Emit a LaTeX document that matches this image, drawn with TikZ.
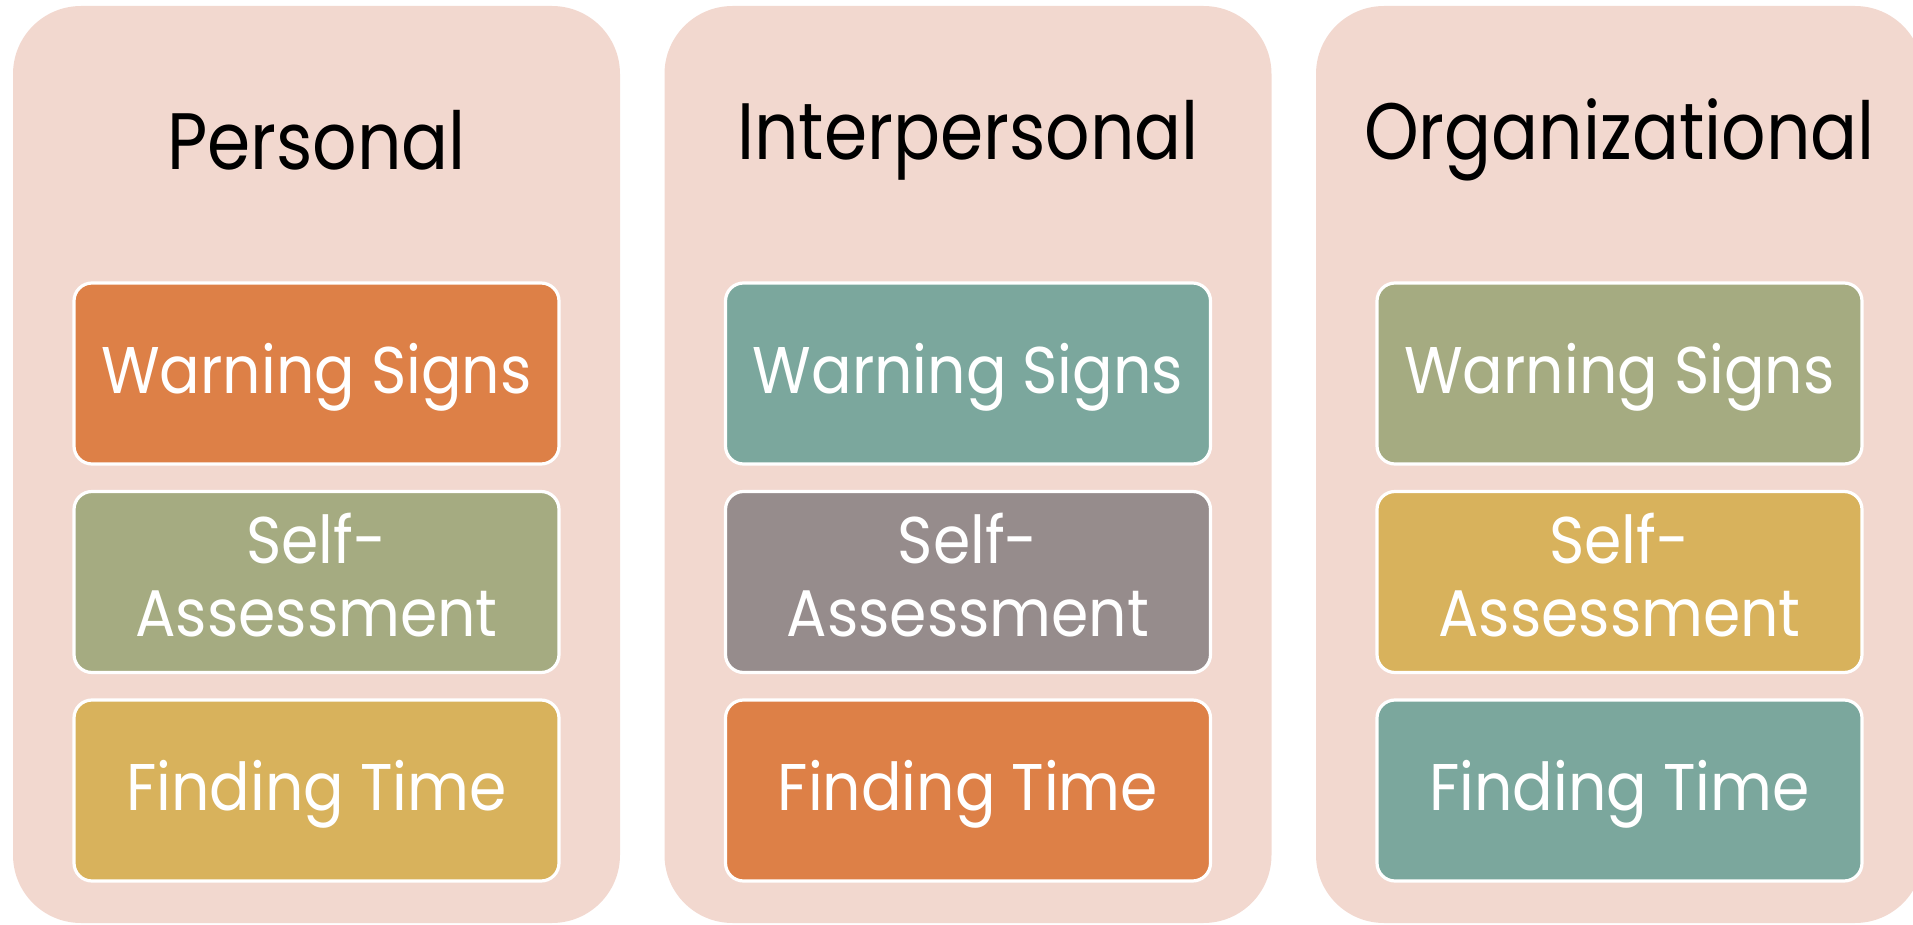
\documentclass[tikz,border=0pt]{standalone}
\usepackage{fontspec}
\setmainfont{Poppins}
\newfontfamily\headfont[FakeStretch=0.87]{Poppins}
\newfontfamily\itemfont[FakeStretch=0.91]{Poppins}
\definecolor{panelfill}{HTML}{F2D8CF}
\definecolor{cOrange}{HTML}{DD8047}
\definecolor{cSage}{HTML}{A5AB81}
\definecolor{cGold}{HTML}{D8B25C}
\definecolor{cTeal}{HTML}{7BA79D}
\definecolor{cMauve}{HTML}{968C8C}
% one-line and two-line item labels, nudged without changing their boxes
\newcommand{\oneline}[1]{\raisebox{-1.8pt}[\height][\depth]{#1}}
\newcommand{\twoline}[2]{\raisebox{-2pt}[\height][\depth]{\begin{tabular}{@{}c@{}}#1\\[0.5pt]#2\end{tabular}}}
\begin{document}
\begin{tikzpicture}[x=0.5pt,y=-0.5pt,
  panel/.style={fill=panelfill,draw=none,rounded corners=34pt,
    minimum width=303.5pt,minimum height=458.5pt,inner sep=0pt},
  heading/.style={font=\headfont\fontsize{40}{44}\selectfont,text=black},
  item/.style={draw=white,line width=1.6pt,rounded corners=9pt,
    minimum width=242.5pt,minimum height=90.5pt,inner sep=0pt,
    text=white,align=center,font=\itemfont\fontsize{33}{36}\selectfont}]
\useasboundingbox (0,0) rectangle (1913,925);
\begin{scope}
\clip (0,0) rectangle (1913,925);
% three columns
\node[panel] (p1) at (316.5,464.5) {};
\node[panel] (p2) at (968,464.5) {};
\node[panel] (p3) at (1619.5,464.5) {};
% column headings
\node[heading] (t1) at (316.5,140) {Personal};
\node[heading] (t2) at (968,140) {Interpersonal};
\node[heading] (t3) at (1619.5,140) {Organizational};
% Personal
\node[item,fill=cOrange] (b11) at (316.5,373.5) {\oneline{Warning Signs}};
\node[item,fill=cSage] (b12) at (316.5,582) {\twoline{Self-}{Assessment}};
\node[item,fill=cGold] (b13) at (316.5,790.5) {\oneline{Finding Time}};
% Interpersonal
\node[item,fill=cTeal] (b21) at (968,373.5) {\oneline{Warning Signs}};
\node[item,fill=cMauve] (b22) at (968,582) {\twoline{Self-}{Assessment}};
\node[item,fill=cOrange] (b23) at (968,790.5) {\oneline{Finding Time}};
% Organizational
\node[item,fill=cSage] (b31) at (1619.5,373.5) {\oneline{Warning Signs}};
\node[item,fill=cGold] (b32) at (1619.5,582) {\twoline{Self-}{Assessment}};
\node[item,fill=cTeal] (b33) at (1619.5,790.5) {\oneline{Finding Time}};
\end{scope}
\end{tikzpicture}
\end{document}
